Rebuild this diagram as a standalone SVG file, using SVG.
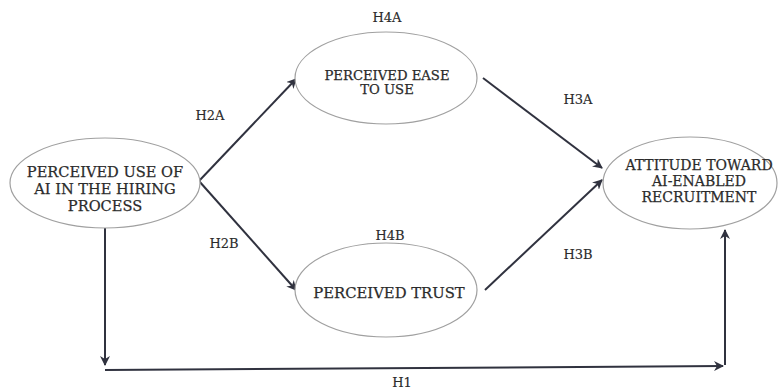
<svg xmlns="http://www.w3.org/2000/svg" width="780" height="391" viewBox="0 0 780 391">
<defs>
<style>
.node{fill:#fff;stroke:#a0a0a0;stroke-width:1.2}
.t{font-family:"DejaVu Serif","Liberation Serif",serif;fill:#2b2b2b;stroke:#2b2b2b;stroke-width:0.25;text-anchor:middle}
.lbl{font-family:"DejaVu Serif","Liberation Serif",serif;font-size:13px;fill:#2b2b2b;stroke:#2b2b2b;stroke-width:0.15;text-anchor:middle}
.c{stroke:#30323f;stroke-width:2;fill:none;marker-end:url(#ah)}
</style>
<marker id="ah" viewBox="0 0 10 10" refX="9" refY="5" markerWidth="5" markerHeight="5" orient="auto" markerUnits="strokeWidth">
<path d="M0,0 L10,5 L0,10 L3,5 Z" fill="#30323f"/>
</marker>
</defs>
<rect width="780" height="391" fill="#fff"/>
<g id="connectors">
<line class="c" x1="199" y1="181" x2="296" y2="79"/>
<line class="c" x1="199" y1="181" x2="296" y2="290"/>
<line class="c" x1="483" y1="78" x2="602" y2="168"/>
<line class="c" x1="485" y1="290" x2="602" y2="180"/>
<line class="c" x1="105" y1="228" x2="105" y2="365"/>
<line class="c" x1="105" y1="370" x2="723" y2="366"/>
<line class="c" x1="725" y1="365" x2="725" y2="230"/>
</g>
<g id="labels">
<text class="lbl" x="387" y="22">H4A</text>
<text class="lbl" x="210" y="120">H2A</text>
<text class="lbl" x="224" y="248">H2B</text>
<text class="lbl" x="578" y="104">H3A</text>
<text class="lbl" x="578" y="259">H3B</text>
<text class="lbl" x="390" y="240">H4B</text>
<text class="lbl" x="402" y="387">H1</text>
</g>
<g id="node-use">
<ellipse class="node" cx="105" cy="183" rx="95" ry="45"/>
<text class="t" font-size="14.6" x="105" y="177">PERCEIVED USE OF</text>
<text class="t" font-size="14.6" x="105" y="194">AI IN THE HIRING</text>
<text class="t" font-size="14.6" x="105" y="211">PROCESS</text>
</g>
<g id="node-ease">
<ellipse class="node" cx="386" cy="78" rx="91" ry="46"/>
<text class="t" font-size="13.2" x="387" y="80">PERCEIVED EASE</text>
<text class="t" font-size="13.2" x="387" y="94">TO USE</text>
</g>
<g id="node-trust">
<ellipse class="node" cx="386" cy="290" rx="91" ry="47"/>
<text class="t" font-size="14.8" x="389" y="298">PERCEIVED TRUST</text>
</g>
<g id="node-attitude">
<ellipse class="node" cx="690" cy="183" rx="87" ry="46"/>
<text class="t" font-size="14" x="699" y="170">ATTITUDE TOWARD</text>
<text class="t" font-size="14" x="699" y="186">AI-ENABLED</text>
<text class="t" font-size="14" x="699" y="202">RECRUITMENT</text>
</g>
</svg>
